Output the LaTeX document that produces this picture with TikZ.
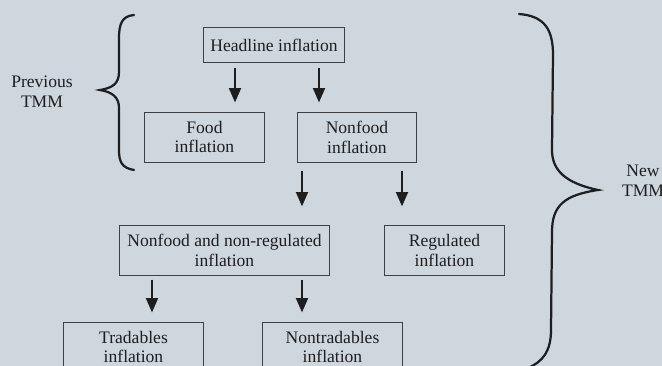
\documentclass[tikz,border=0pt]{standalone}
\usepackage{fontspec}
\setmainfont{Liberation Serif}
\usetikzlibrary{arrows.meta}
\definecolor{panel}{RGB}{206,214,222}
\definecolor{ink}{RGB}{30,30,30}
\begin{document}
\begin{tikzpicture}[x=0.022cm, y=-0.022cm, font=\fontsize{11}{12.5}\selectfont, text=ink,
          box/.style={draw=ink!85, line width=0.6pt, align=center, inner sep=0pt},
          arr/.style={-{Triangle[width=7.5pt,length=9pt]}, line width=1.2pt, draw=ink,
            shorten <=0.11cm, shorten >=0.2cm},
          brace/.style={draw=ink, line width=1.4pt, line cap=round}]
        \useasboundingbox (0,0) rectangle (662,366);
        \fill[panel] (0,0) rectangle (662,366);
        \clip (0,0) rectangle (662,366);
        \node[box, minimum width=3.12cm, minimum height=0.79cm] (head) at (274,45) {Headline inflation};
        \node[box, minimum width=2.62cm, minimum height=1.1cm] (food) at (204.5,137) {Food\\inflation};
        \node[box, minimum width=2.6cm, minimum height=1.1cm] (nonfood) at (357,137) {Nonfood\\inflation};
        \node[box, minimum width=4.64cm, minimum height=1.08cm] (core) at (224.5,250.5) {Nonfood and non-regulated\\inflation};
        \node[box, minimum width=2.62cm, minimum height=1.08cm] (reg) at (444.5,250.5) {Regulated\\inflation};
        \node[box, minimum width=3.1cm, minimum height=1.1cm] (trad) at (133.5,347) {Tradables\\inflation};
        \node[box, minimum width=3.06cm, minimum height=1.1cm] (nontrad) at (332.5,347) {Nontradables\\inflation};
        \draw[arr] (head.south -| 235,0) -- (food.north -| 235,0);
        \draw[arr] (head.south -| 319,0) -- (nonfood.north -| 319,0);
        \draw[arr, shorten <=0.18cm, shorten >=0.42cm] (nonfood.south -| 302,0) -- (core.north -| 302,0);
        \draw[arr, shorten <=0.18cm, shorten >=0.42cm] (nonfood.south -| 402,0) -- (reg.north -| 402,0);
        \draw[arr, shorten <=0.09cm] (core.south -| 152,0) -- (trad.north -| 152,0);
        \draw[arr, shorten <=0.09cm] (core.south -| 302,0) -- (nontrad.north -| 302,0);
        \draw[brace] (134,15) .. controls (122,16) and (119,24) .. (119,38) -- (119,72)
          .. controls (119,84) and (112,88) .. (100,90) .. controls (112,92) and (119,97) .. (119,108)
          -- (119,150) .. controls (119,162) and (122,168) .. (134,170);
        \draw[brace] (519,14) .. controls (545,16) and (553,30) .. (553,55) -- (552,150)
          .. controls (552,170) and (565,183) .. (598,190) .. controls (565,195) and (552,205) .. (552,232)
          -- (551,330) .. controls (551,352) and (542,362) .. (528,368);
        \node[align=center] (prev) at (42,92) {Previous\\TMM};
        \node[align=center] (new) at (643,181) {New\\TMM};
      \end{tikzpicture}
\end{document}
